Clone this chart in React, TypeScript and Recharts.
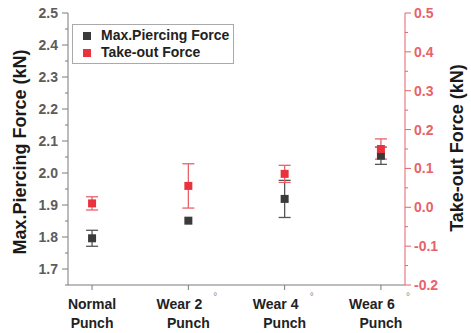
import {
  ErrorBar,
  Label,
  Legend,
  Scatter,
  ScatterChart,
  XAxis,
  YAxis,
} from 'recharts';

const categories = ['Normal', 'Wear 2', 'Wear 4', 'Wear 6'];
const degreeMarks = ['', '°', '°', '°'];
const positions = [0, 1, 2, 3];

const piercingForce = [1.796, 1.851, 1.919, 2.054];
const piercingErr = [0.025, 0, 0.058, 0.027];
const takeOutForce = [0.01, 0.055, 0.086, 0.15];
const takeOutErr = [0.017, 0.057, 0.022, 0.026];

const leftMajorTicks = [1.7, 1.8, 1.9, 2.0, 2.1, 2.2, 2.3, 2.4, 2.5];
const leftMinorTicks = [1.65, 1.75, 1.85, 1.95, 2.05, 2.15, 2.25, 2.35, 2.45];
const rightMajorTicks = [-0.2, -0.1, 0.0, 0.1, 0.2, 0.3, 0.4, 0.5];
const rightMinorTicks = [-0.15, -0.05, 0.05, 0.15, 0.25, 0.35, 0.45];

const FONT = 'Arial, "Liberation Sans", sans-serif';
const GRAY = '#7a7a7a';
const BLACK = '#3b3b3b';
const RED = '#e8333d';
const RED_LIGHT = '#e8626a';

const piercingData = positions.map((x, i) => ({ x, y: piercingForce[i], err: piercingErr[i] }));
const takeOutData = positions.map((x, i) => ({ x, y: takeOutForce[i], err: takeOutErr[i] }));

function LeftTick({ x, y, payload }: any) {
  const major = leftMajorTicks.includes(payload.value);
  return (
    <g>
      <line x1={x} x2={x - (major ? 6 : 3)} y1={y} y2={y} stroke={GRAY} />
      {major && (
        <text
          x={x - 10}
          y={y}
          textAnchor="end"
          dominantBaseline="central"
          fontFamily={FONT}
          fontWeight="bold"
          fontSize={14}
          fill="#5c5c5c"
        >
          {payload.value.toFixed(1)}
        </text>
      )}
    </g>
  );
}

function RightTick({ x, y, payload }: any) {
  const major = rightMajorTicks.includes(payload.value);
  return (
    <g>
      <line x1={x} x2={x + (major ? 6 : 3)} y1={y} y2={y} stroke={RED_LIGHT} />
      {major && (
        <text
          x={x + 9}
          y={y}
          textAnchor="start"
          dominantBaseline="central"
          fontFamily={FONT}
          fontWeight="bold"
          fontSize={14}
          fill={RED_LIGHT}
        >
          {payload.value.toFixed(1)}
        </text>
      )}
    </g>
  );
}

function BottomTick({ x, y, payload }: any) {
  const i = payload.value;
  const hasDeg = degreeMarks[i] !== '';
  return (
    <g fontFamily={FONT} fontWeight="bold" fontSize={14} fill="#222">
      <line x1={x} x2={x} y1={y} y2={y + 5} stroke={GRAY} />
      <text x={hasDeg ? x - 9 : x} y={y + 24} textAnchor="middle">
        {categories[i]}
      </text>
      {hasDeg && (
        <text x={x + 27} y={y + 15} textAnchor="middle" fontSize={10} fontWeight="normal" fill="#8a8a8a">
          {degreeMarks[i]}
        </text>
      )}
      <text x={x} y={y + 43} textAnchor="middle">
        Punch
      </text>
    </g>
  );
}

function TopTick({ x, y }: any) {
  return <line x1={x} x2={x} y1={y} y2={y + 4} stroke={GRAY} />;
}

function AxisTitle({ viewBox, value, side }: any) {
  const cx = side === 'left' ? viewBox.x + 2 : viewBox.x + viewBox.width - 8;
  const cy = viewBox.y + viewBox.height / 2 + (side === 'left' ? 3 : -1);
  return (
    <text
      x={cx}
      y={cy}
      transform={`rotate(-90 ${cx} ${cy})`}
      textAnchor="middle"
      dominantBaseline="central"
      fontFamily={FONT}
      fontWeight="bold"
      fontSize={18}
      fill="#1a1a1a"
    >
      {value}
    </text>
  );
}

function LegendBox({ payload }: any) {
  return (
    <div
      style={{
        border: '1px solid #aaa',
        padding: '2px 4px 2px 10px',
        fontFamily: FONT,
        fontWeight: 'bold',
        fontSize: 14,
        color: '#222',
        lineHeight: '17px',
        background: '#fff',
      }}
    >
      {(payload ?? []).map((p: any) => (
        <div key={p.value} style={{ display: 'flex', alignItems: 'center' }}>
          <span
            style={{ width: 8, height: 8, background: p.color, display: 'inline-block', marginRight: 10 }}
          />
          {p.value}
        </div>
      ))}
    </div>
  );
}

export default function App() {
  return (
    <div style={{ position: 'absolute', left: 0, top: 0, background: '#fff' }}>
      <ScatterChart width={471} height={333} margin={{ top: 13, right: 6, left: 18, bottom: 0 }}>
        <XAxis
          xAxisId="bottom"
          type="number"
          dataKey="x"
          domain={[-0.25, 3.25]}
          ticks={positions}
          interval={0}
          height={48}
          stroke={GRAY}
          tickLine={false}
          tickSize={0}
          tickMargin={0}
          tick={<BottomTick />}
        />
        <XAxis
          xAxisId="top"
          orientation="top"
          type="number"
          dataKey="x"
          domain={[-0.25, 3.25]}
          ticks={positions}
          interval={0}
          height={0}
          stroke={GRAY}
          tickLine={false}
          tickSize={0}
          tickMargin={0}
          tick={<TopTick />}
        />
        <YAxis
          yAxisId="left"
          type="number"
          dataKey="y"
          domain={[1.65, 2.5]}
          ticks={[...leftMajorTicks, ...leftMinorTicks]}
          interval={0}
          width={50}
          stroke={GRAY}
          tickLine={false}
          tickSize={0}
          tickMargin={0}
          tick={<LeftTick />}
        >
          <Label content={<AxisTitle side="left" />} value="Max.Piercing Force (kN)" />
        </YAxis>
        <YAxis
          yAxisId="right"
          orientation="right"
          type="number"
          dataKey="y"
          domain={[-0.2, 0.5]}
          ticks={[...rightMajorTicks, ...rightMinorTicks]}
          interval={0}
          width={60}
          stroke={RED_LIGHT}
          tickLine={false}
          tickSize={0}
          tickMargin={0}
          tick={<RightTick />}
        >
          <Label content={<AxisTitle side="right" />} value="Take-out Force (kN)" />
        </YAxis>
        <Legend
          layout="vertical"
          align="center"
          verticalAlign="middle"
          content={<LegendBox />}
          wrapperStyle={{ position: 'absolute', left: 72, top: 24, width: 'auto', height: 'auto' }}
        />
        <Scatter
          name="Max.Piercing Force"
          data={piercingData}
          xAxisId="bottom"
          yAxisId="left"
          fill={BLACK}
          shape="square"
          isAnimationActive={false}
        >
          <ErrorBar dataKey="err" direction="y" width={6} stroke="#555" strokeWidth={1.3} />
        </Scatter>
        <Scatter
          name="Take-out Force"
          data={takeOutData}
          xAxisId="bottom"
          yAxisId="right"
          fill={RED}
          shape="square"
          isAnimationActive={false}
        >
          <ErrorBar dataKey="err" direction="y" width={6} stroke={RED_LIGHT} strokeWidth={1.3} />
        </Scatter>
      </ScatterChart>
    </div>
  );
}
